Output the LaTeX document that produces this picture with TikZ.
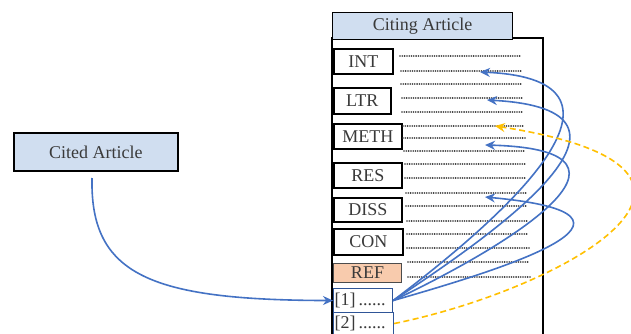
\documentclass[tikz,border=0pt]{standalone}
\usepackage{fontspec}
\setmainfont{Liberation Serif}
\usetikzlibrary{arrows.meta}
\definecolor{hdrblue}{HTML}{D0DEF0}
\definecolor{refpeach}{HTML}{F8CBAD}
\definecolor{arrblue}{HTML}{4472C4}
\definecolor{boxblue}{HTML}{2F5597}
\definecolor{dashyel}{HTML}{FFC000}
\definecolor{txt}{HTML}{3A3A3A}
\tikzset{
  lbl/.style={font=\fontsize{18}{20}\selectfont, text=txt},
  secbox/.style={draw=black, line width=1.6pt, fill=white, lbl, inner sep=0pt, anchor=north west},
  refbox/.style={draw=boxblue, line width=1.1pt, fill=white, lbl, inner sep=0pt, anchor=north west, align=left},
  dotline/.style={draw=black!80, line width=1.8pt, line cap=round, dash pattern=on 0pt off 2.3pt},
  bluearr/.style={draw=arrblue, line width=1.6pt, -{Stealth[length=10pt,width=9pt]}},
  yelarr/.style={draw=dashyel, line width=1.6pt, dash pattern=on 6pt off 3.5pt, -{Stealth[length=10pt,width=9pt]}}
}
\begin{document}
\begin{tikzpicture}[x=1pt,y=-1pt]
\useasboundingbox (0,0) rectangle (631,334);
\fill[white] (0,0) rectangle (631,334);
% cited article
\node[draw=black, line width=1.8pt, fill=hdrblue, lbl, minimum width=164pt, minimum height=38pt, inner sep=0pt, anchor=north west] (cited) at (13,132) {Cited Article};
% main box
\draw[line width=1.3pt] (332,334) -- (332,38) -- (543,38) -- (543,334);
\node[draw=black, line width=1.3pt, fill=hdrblue, lbl, minimum width=180pt, minimum height=27pt, inner sep=0pt, anchor=north west] (citing) at (332,12) {Citing Article};
% sections
\node[secbox, minimum width=59pt, minimum height=25pt] (int) at (333,48) {INT};
\node[secbox, minimum width=57pt, minimum height=26pt] (ltr) at (333,87) {LTR};
\node[secbox, minimum width=68pt, minimum height=25pt] (meth) at (333,123) {METH};
\node[secbox, minimum width=68pt, minimum height=25pt] (res) at (333,162) {RES};
\node[secbox, minimum width=68pt, minimum height=24pt] (diss) at (333,197) {DISS};
\node[secbox, minimum width=69pt, minimum height=26pt] (con) at (333,228) {CON};
\node[draw=black!70, line width=1pt, fill=refpeach, lbl, inner sep=0pt, anchor=north west, minimum width=68pt, minimum height=19pt] (ref) at (333,263) {REF};
\node[refbox, minimum width=59pt, minimum height=24pt, text width=57pt] (r1) at (333,288) {[1]\,......};
\node[refbox, minimum width=60pt, minimum height=22pt, text width=58pt] (r2) at (333,312) {[2]\,......};
% dotted text lines
\foreach \y/\xa/\xb in {56/400/521, 71/401/522, 84/401/522, 98/402/523, 112/402/523, 126/403/524, 138/403/525, 151/404/525, 164/405/526, 178/405/526, 193/406/527, 206/406/527, 221/407/528, 234/407/528, 248/407/529, 262/408/529, 277/408/530}
  \draw[dotline] (\xa,\y) -- (\xb,\y);
% target coordinates
\coordinate (t1) at (480,72);
\coordinate (t2) at (487,100);
\coordinate (t3) at (485,145);
\coordinate (t4) at (485,197);
\coordinate (t5) at (495,126);
\coordinate (c1) at (92,178);
% cited to [1]
\draw[bluearr] (c1) .. controls (90,275) and (150,300) .. (r1.west);
% [1] to sections
\draw[bluearr] (r1.east) .. controls (500,220) and (660,80) .. (t1);
\draw[bluearr] (r1.east) .. controls (500,230) and (670,110) .. (t2);
\draw[bluearr] (r1.east) .. controls (500,250) and (670,150) .. (t3);
\draw[bluearr] (r1.east) .. controls (500,270) and (680,215) .. (t4);
% [2] to methods
\draw[yelarr] (r2.east) .. controls (560,290) and (780,170) .. (t5);
\end{tikzpicture}
\end{document}
